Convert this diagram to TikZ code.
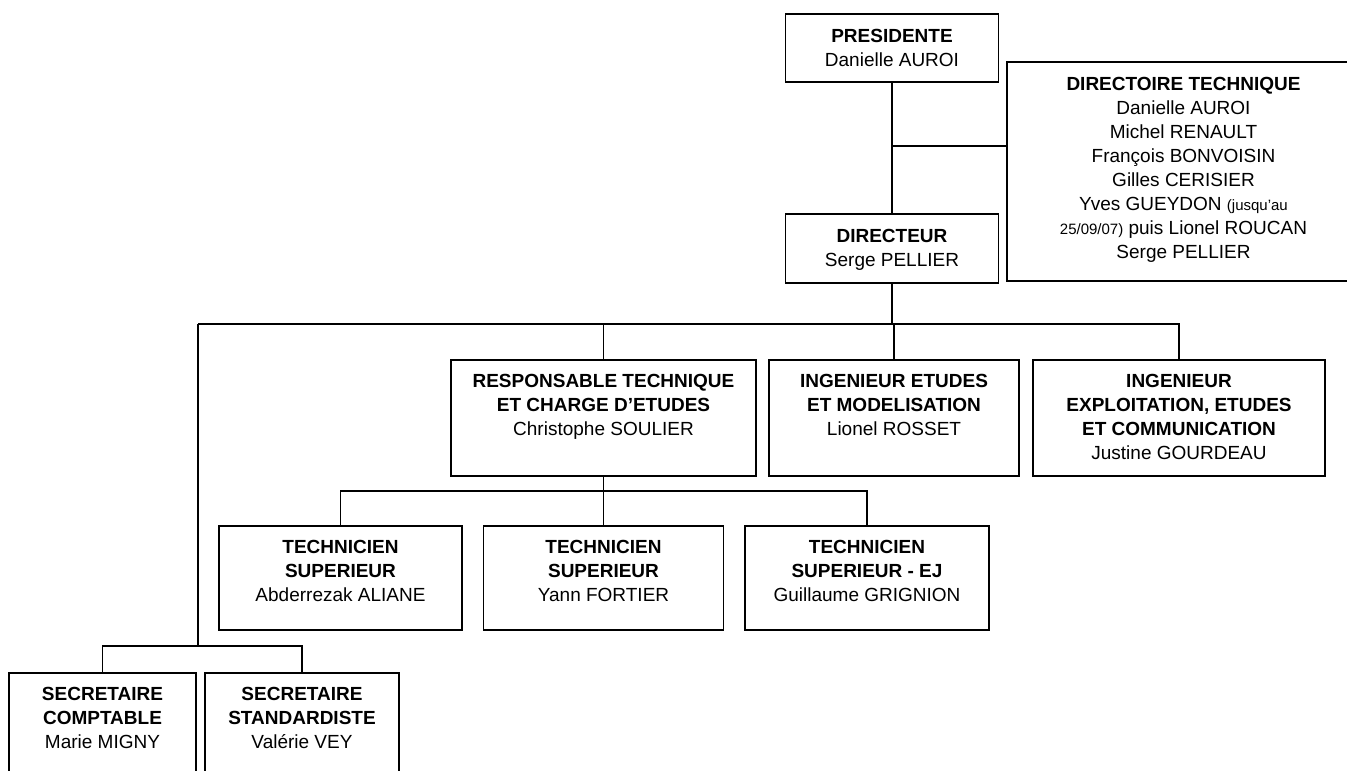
\documentclass[tikz,border=0pt]{standalone}
\usepackage{fontspec}
\setmainfont{Liberation Sans}
\usetikzlibrary{positioning}

\tikzset{
  unit/.style={draw, line width=1.6pt, inner sep=0pt},
  label text/.style={align=center, inner sep=0pt, font=\fontsize{19}{24}\selectfont},
  link/.style={line width=1.4pt}
}
\newcommand{\datenote}{\fontsize{15}{24}\selectfont}

\begin{document}
\begin{tikzpicture}[x=1pt, y=-1pt]
  \clip (0,0) rectangle (1347,771);
  \fill[white] (0,0) rectangle (1347,771);

  % top of the chart
  \node[unit, minimum width=213pt, minimum height=68pt] (pres) at (892,48) {};
  \node[unit, minimum width=213pt, minimum height=69pt] (dir) at (892,248.5) {};
  \node[unit, minimum width=353pt, minimum height=219pt] (dtech) at (1183.5,171.5) {};
  \node[label text, below=16pt of pres.north] (pres-t) {\textbf{PRESIDENTE}\\Danielle AUROI};
  \node[label text, below=16pt of dir.north] (dir-t) {\textbf{DIRECTEUR}\\Serge PELLIER};
  \node[label text, below=16pt of dtech.north] (dtech-t) {\textbf{DIRECTOIRE TECHNIQUE}\\Danielle AUROI\\Michel RENAULT\\François BONVOISIN\\Gilles CERISIER\\Yves GUEYDON {\datenote (jusqu’au}\\{\datenote 25/09/07)} puis Lionel ROUCAN\\Serge PELLIER};

  % second level
  \node[unit, minimum width=305pt, minimum height=116pt] (resp) at (603.5,418) {};
  \node[unit, minimum width=250pt, minimum height=116pt] (inget) at (894,418) {};
  \node[unit, minimum width=292pt, minimum height=116pt] (ingexpl) at (1179,418) {};
  \node[label text, below=15pt of resp.north] (resp-t) {\textbf{RESPONSABLE TECHNIQUE}\\\textbf{ET CHARGE D’ETUDES}\\Christophe SOULIER};
  \node[label text, below=15pt of inget.north] (inget-t) {\textbf{INGENIEUR ETUDES}\\\textbf{ET MODELISATION}\\Lionel ROSSET};
  \node[label text, below=15pt of ingexpl.north] (ingexpl-t) {\textbf{INGENIEUR}\\\textbf{EXPLOITATION, ETUDES}\\\textbf{ET COMMUNICATION}\\Justine GOURDEAU};

  % technicians
  \node[unit, minimum width=243pt, minimum height=104pt] (tech1) at (340.5,578) {};
  \node[unit, minimum width=240pt, minimum height=104pt] (tech2) at (603.5,578) {};
  \node[unit, minimum width=244pt, minimum height=104pt] (tech3) at (867,578) {};
  \node[label text, below=15pt of tech1.north] (tech1-t) {\textbf{TECHNICIEN}\\\textbf{SUPERIEUR}\\Abderrezak ALIANE};
  \node[label text, below=15pt of tech2.north] (tech2-t) {\textbf{TECHNICIEN}\\\textbf{SUPERIEUR}\\Yann FORTIER};
  \node[label text, below=15pt of tech3.north] (tech3-t) {\textbf{TECHNICIEN}\\\textbf{SUPERIEUR - EJ}\\Guillaume GRIGNION};

  % secretaries
  \node[unit, minimum width=187pt, minimum height=117pt] (sec1) at (102.5,731.5) {};
  \node[unit, minimum width=194pt, minimum height=117pt] (sec2) at (302,731.5) {};
  \node[label text, below=15pt of sec1.north] (sec1-t) {\textbf{SECRETAIRE}\\\textbf{COMPTABLE}\\Marie MIGNY};
  \node[label text, below=15pt of sec2.north] (sec2-t) {\textbf{SECRETAIRE}\\\textbf{STANDARDISTE}\\Valérie VEY};

  % connectors
  \coordinate (split) at (892,146);
  \coordinate (bus) at (198,324);
  \coordinate (techbus) at (603.5,491);
  \coordinate (secbus) at (198,646);
  \draw[link] (pres.south) -- (dir.north);
  \draw[link] (split) -- (dtech.west |- split);
  \draw[link] (dir.south) -- (dir.south |- bus);
  \draw[link] (bus) -| (ingexpl.north);
  \draw[link] (resp.north) -- (resp.north |- bus);
  \draw[link] (inget.north) -- (inget.north |- bus);
  \draw[link] (resp.south) -- (tech2.north);
  \draw[link] (tech1.north) |- (techbus) -| (tech3.north);
  \draw[link] (bus) -- (secbus);
  \draw[link] (sec1.north) |- (secbus) -| (sec2.north);
\end{tikzpicture}
\end{document}
